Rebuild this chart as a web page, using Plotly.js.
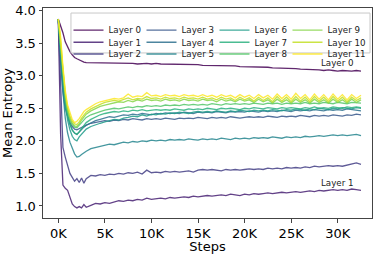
<!DOCTYPE html>
<html>
<head>
<meta charset="utf-8">
<script src="https://cdn.plot.ly/plotly-3.0.1.min.js"></script>
<style>html,body{margin:0;padding:0;background:#fff;}#chart{width:381px;height:254px;}</style>
</head>
<body>
<div id="chart"></div>
<script>
const STEPS = [0,250,500,750,1000,1250,1500,1750,2000,2250,2500,2750,3000,
  3500,4000,4500,5000,5500,6000,6500,7000,7500,8000,8500,9000,9500,10000,
  10500,11000,11500,12000,12500,13000,13500,14000,14500,15000,15500,16000,
  16500,17000,17500,18000,18500,19000,19500,20000,20500,21000,21500,22000,
  22500,23000,23500,24000,24500,25000,25500,26000,26500,27000,27500,28000,
  28500,29000,29500,30000,30500,31000,31500,32000,32500];

const LAYER_0 = [3.87,3.78,3.66,3.52,3.43,3.37,3.32,3.28,3.26,3.24,3.22,3.21,3.20,
  3.20,3.19,3.20,3.19,3.19,3.20,3.19,3.19,3.20,3.19,3.18,3.19,3.19,3.18,
  3.19,3.18,3.18,3.18,3.18,3.17,3.18,3.17,3.17,3.17,3.16,3.16,
  3.16,3.15,3.16,3.15,3.15,3.15,3.14,3.14,3.14,3.13,3.14,3.13,
  3.13,3.12,3.12,3.12,3.11,3.11,3.11,3.10,3.10,3.10,3.09,3.09,
  3.08,3.09,3.08,3.07,3.08,3.07,3.07,3.08,3.07];
const LAYER_1 = [3.87,2.10,1.32,1.27,1.24,1.12,1.03,0.99,0.97,0.99,0.97,1.02,0.98,
  1.01,1.04,1.03,1.05,1.04,1.06,1.08,1.07,1.09,1.08,1.10,1.09,1.12,1.10,
  1.11,1.12,1.11,1.13,1.12,1.13,1.14,1.13,1.15,1.14,1.15,1.16,
  1.15,1.16,1.17,1.16,1.18,1.17,1.16,1.18,1.17,1.19,1.18,1.19,
  1.20,1.19,1.20,1.21,1.20,1.21,1.22,1.21,1.22,1.23,1.22,1.24,
  1.23,1.24,1.25,1.24,1.25,1.24,1.26,1.25,1.24];
const LAYER_2 = [3.87,2.70,1.90,1.75,1.62,1.50,1.44,1.38,1.42,1.36,1.43,1.35,1.42,
  1.47,1.46,1.48,1.47,1.49,1.48,1.50,1.49,1.51,1.50,1.52,1.49,1.55,1.51,
  1.52,1.51,1.53,1.52,1.53,1.52,1.53,1.54,1.52,1.55,1.56,1.55,
  1.56,1.55,1.54,1.56,1.55,1.56,1.55,1.56,1.57,1.56,1.57,1.56,
  1.58,1.57,1.58,1.57,1.59,1.58,1.59,1.58,1.60,1.59,1.61,1.60,
  1.61,1.62,1.61,1.62,1.61,1.63,1.64,1.66,1.64];
const LAYER_3 = [3.87,3.20,2.75,2.50,2.38,2.28,2.22,2.18,2.17,2.19,2.20,2.22,2.24,
  2.27,2.28,2.30,2.31,2.30,2.32,2.31,2.33,2.32,2.34,2.33,2.32,2.34,2.33,
  2.34,2.33,2.35,2.34,2.33,2.35,2.34,2.35,2.34,2.36,2.35,2.34,
  2.36,2.35,2.36,2.35,2.37,2.36,2.35,2.36,2.37,2.36,2.37,2.36,
  2.38,2.37,2.36,2.38,2.37,2.38,2.37,2.39,2.38,2.37,2.39,2.38,
  2.39,2.38,2.40,2.39,2.38,2.40,2.39,2.41,2.40];
const LAYER_4 = [3.87,3.30,2.85,2.55,2.38,2.25,2.17,2.12,2.10,2.14,2.18,2.21,2.24,
  2.28,2.31,2.33,2.35,2.37,2.36,2.38,2.40,2.39,2.41,2.40,2.42,2.41,2.40,
  2.42,2.41,2.43,2.42,2.43,2.42,2.44,2.43,2.42,2.44,2.43,2.44,
  2.43,2.45,2.44,2.43,2.45,2.44,2.45,2.44,2.46,2.45,2.44,2.46,
  2.45,2.46,2.45,2.47,2.46,2.45,2.47,2.46,2.47,2.46,2.48,2.47,
  2.46,2.48,2.47,2.48,2.47,2.49,2.48,2.47,2.46];
const LAYER_5 = [3.87,3.30,2.75,2.35,2.12,1.98,1.88,1.80,1.75,1.76,1.79,1.82,1.84,
  1.88,1.90,1.92,1.93,1.95,1.94,1.96,1.98,1.97,1.99,1.98,2.00,1.99,2.01,
  2.00,2.01,2.00,2.02,2.01,2.02,2.01,2.03,2.02,2.01,2.03,2.02,
  2.03,2.02,2.04,2.03,2.02,2.04,2.03,2.04,2.03,2.05,2.04,2.05,
  2.04,2.06,2.05,2.04,2.06,2.05,2.06,2.05,2.07,2.06,2.07,2.08,
  2.07,2.08,2.09,2.08,2.09,2.08,2.09,2.10,2.08];
const LAYER_6 = [3.87,3.35,2.90,2.55,2.32,2.17,2.07,2.02,2.00,2.06,2.10,2.15,2.18,
  2.22,2.25,2.27,2.29,2.31,2.33,2.32,2.35,2.36,2.38,2.37,2.40,2.38,2.41,
  2.40,2.42,2.41,2.43,2.42,2.44,2.43,2.42,2.44,2.45,2.44,2.45,
  2.44,2.46,2.45,2.44,2.46,2.45,2.47,2.46,2.45,2.47,2.46,2.47,
  2.46,2.48,2.47,2.46,2.48,2.47,2.49,2.48,2.47,2.49,2.48,2.50,
  2.49,2.48,2.50,2.49,2.51,2.50,2.49,2.51,2.50];
const LAYER_7 = [3.87,3.40,2.95,2.60,2.38,2.25,2.16,2.12,2.10,2.14,2.19,2.24,2.28,
  2.33,2.37,2.40,2.42,2.43,2.45,2.44,2.46,2.45,2.47,2.46,2.48,2.46,2.47,
  2.48,2.47,2.48,2.47,2.49,2.48,2.47,2.49,2.48,2.49,2.48,2.50,
  2.49,2.48,2.50,2.49,2.50,2.49,2.48,2.50,2.49,2.51,2.50,2.49,
  2.51,2.50,2.49,2.51,2.50,2.51,2.50,2.49,2.51,2.50,2.52,2.50,
  2.51,2.50,2.52,2.51,2.50,2.52,2.51,2.52,2.51];
const LAYER_8 = [3.87,3.45,3.00,2.65,2.45,2.32,2.25,2.21,2.20,2.24,2.29,2.33,2.36,
  2.40,2.43,2.45,2.47,2.48,2.50,2.49,2.51,2.52,2.51,2.53,2.52,2.54,2.53,
  2.54,2.53,2.55,2.54,2.55,2.54,2.56,2.55,2.56,2.55,2.56,2.55,
  2.57,2.56,2.55,2.57,2.56,2.57,2.56,2.57,2.56,2.58,2.57,2.56,
  2.58,2.57,2.58,2.56,2.58,2.57,2.58,2.57,2.59,2.57,2.58,2.57,
  2.59,2.58,2.57,2.59,2.58,2.57,2.59,2.58,2.58];
const LAYER_9 = [3.87,3.50,3.05,2.70,2.48,2.35,2.27,2.23,2.22,2.26,2.32,2.37,2.41,
  2.46,2.50,2.53,2.55,2.57,2.58,2.60,2.59,2.62,2.60,2.63,2.61,2.64,2.62,
  2.63,2.61,2.64,2.62,2.63,2.61,2.64,2.62,2.63,2.61,2.64,2.62,
  2.63,2.60,2.64,2.61,2.63,2.60,2.64,2.61,2.63,2.59,2.64,2.60,
  2.63,2.58,2.64,2.59,2.63,2.58,2.64,2.59,2.63,2.58,2.64,2.59,
  2.63,2.58,2.64,2.59,2.63,2.58,2.64,2.59,2.63];
const LAYER_10 = [3.87,3.55,3.10,2.74,2.52,2.38,2.30,2.26,2.25,2.29,2.35,2.40,2.44,
  2.49,2.53,2.56,2.59,2.60,2.62,2.61,2.63,2.66,2.63,2.65,2.64,2.68,2.65,
  2.66,2.64,2.67,2.65,2.66,2.64,2.67,2.65,2.66,2.64,2.67,2.64,
  2.66,2.63,2.67,2.64,2.66,2.62,2.67,2.63,2.66,2.61,2.67,2.62,
  2.66,2.60,2.68,2.61,2.67,2.60,2.68,2.61,2.67,2.60,2.68,2.61,
  2.67,2.60,2.68,2.61,2.67,2.60,2.67,2.62,2.66];
const LAYER_11 = [3.87,3.60,3.15,2.78,2.55,2.42,2.33,2.28,2.30,2.34,2.40,2.45,2.48,
  2.53,2.57,2.60,2.62,2.63,2.65,2.64,2.66,2.72,2.67,2.69,2.68,2.74,2.69,
  2.70,2.68,2.71,2.69,2.70,2.68,2.71,2.69,2.70,2.68,2.71,2.68,
  2.70,2.67,2.71,2.68,2.70,2.66,2.71,2.67,2.70,2.65,2.71,2.66,
  2.70,2.64,2.72,2.65,2.71,2.64,2.73,2.65,2.71,2.63,2.72,2.64,
  2.71,2.63,2.72,2.64,2.71,2.63,2.71,2.65,2.70];

const LAYER_NAMES = ['Layer 0','Layer 1','Layer 2','Layer 3','Layer 4','Layer 5',
  'Layer 6','Layer 7','Layer 8','Layer 9','Layer 10','Layer 11'];
const LAYER_SERIES = [LAYER_0,LAYER_1,LAYER_2,LAYER_3,LAYER_4,LAYER_5,
  LAYER_6,LAYER_7,LAYER_8,LAYER_9,LAYER_10,LAYER_11];
const LAYER_COLORS = ['#440154','#482173','#433e85','#38588c','#2d708e','#25858e',
  '#1e9b8a','#2ab07f','#52c569','#86d549','#c2df23','#fde725'];
const X_TICKS = [0,5000,10000,15000,20000,25000,30000];
const X_TICK_TEXT = ['0K','5K','10K','15K','20K','25K','30K'];
const Y_TICKS = [1.0,1.5,2.0,2.5,3.0,3.5,4.0];

const LEGEND_IDS = ['legend','legend2','legend3'];

const traces = LAYER_SERIES.map((ys, i) => {
  const t = {
    type: 'scatter', mode: 'lines',
    x: STEPS, y: ys, name: LAYER_NAMES[i],
    line: {color: LAYER_COLORS[i], width: 1.3},
    opacity: 0.85,
    legend: LEGEND_IDS[i % 3]
  };
  if (i >= 9) t.legendwidth = 39;
  return t;
});

const FONT = 'DejaVu Sans, sans-serif';
const legendBase = {
  orientation: 'h', xanchor: 'left', yanchor: 'middle', x: 0.0775,
  bgcolor: 'rgba(0,0,0,0)', borderwidth: 0,
  entrywidth: 28, entrywidthmode: 'pixels',
  font: {family: FONT, size: 8.7, color: '#222'},
  itemclick: false
};

const layout = {
  width: 381, height: 254,
  margin: {l: 43, r: 9, t: 8, b: 36},
  paper_bgcolor: '#ffffff', plot_bgcolor: '#ffffff',
  font: {family: FONT, color: '#000'},
  showlegend: true,
  legend: Object.assign({}, legendBase, {y: 0.895}),
  legend2: Object.assign({}, legendBase, {y: 0.837}),
  legend3: Object.assign({}, legendBase, {y: 0.781}),
  xaxis: {
    range: [-1640, 33680], tickvals: X_TICKS, ticktext: X_TICK_TEXT,
    showgrid: false, zeroline: false, showline: true, mirror: true,
    linecolor: '#444', linewidth: 1, ticks: 'outside', ticklen: 3.5, tickcolor: '#444',
    tickfont: {family: FONT, size: 13, color: '#000'},
    title: {text: 'Steps', font: {family: FONT, size: 13, color: '#000'}, standoff: 3}
  },
  yaxis: {
    range: [0.815, 4.04], tickvals: Y_TICKS, tickformat: '.1f',
    showgrid: false, zeroline: false, showline: true, mirror: true,
    linecolor: '#444', linewidth: 1, ticks: 'outside', ticklen: 3.5, tickcolor: '#444',
    tickfont: {family: FONT, size: 13, color: '#000'},
    title: {text: 'Mean Entropy', font: {family: FONT, size: 13, color: '#000'}, standoff: 2}
  },
  shapes: [{
    type: 'rect', xref: 'paper', yref: 'paper', layer: 'above',
    x0: 0.085, x1: 0.994, y0: 0.786, y1: 0.976,
    fillcolor: 'rgba(255,255,255,0.8)', line: {color: '#c8c8c8', width: 1}
  }],
  annotations: [
    {x: 30000, y: 3.19, xref: 'x', yref: 'y', text: 'Layer 0', showarrow: false,
     borderpad: 0, font: {family: FONT, size: 8.7, color: '#222'}},
    {x: 30000, y: 1.36, xref: 'x', yref: 'y', text: 'Layer 1', showarrow: false,
     borderpad: 0, font: {family: FONT, size: 8.7, color: '#222'}}
  ]
};

Plotly.newPlot('chart', traces, layout, {staticPlot: true, displayModeBar: false});
</script>
</body>
</html>
